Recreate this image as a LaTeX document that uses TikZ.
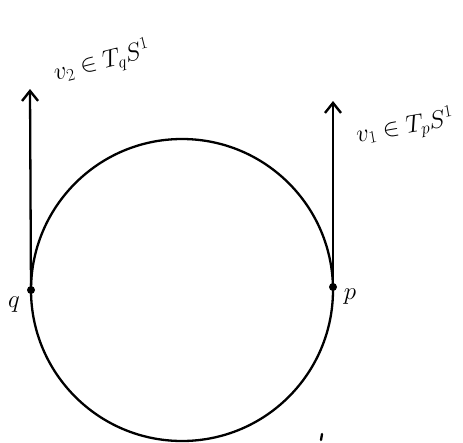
\documentclass[tikz,border=0pt]{standalone}
\usetikzlibrary{arrows.meta}
\begin{document}
\begin{tikzpicture}[x=1pt,y=-1pt,
  stroke/.style={line width=2.3pt,line cap=round},
  vec/.style={stroke,-{Straight Barb[length=10pt,width=16pt,line width=2.4pt]}},
  lab/.style={font=\fontsize{27}{30}\selectfont,inner sep=0pt},
  dotpt/.style={circle,fill=black,inner sep=0pt,minimum size=8pt}]
\useasboundingbox (0,0) rectangle (463,442);
\draw[stroke] (182,290) circle (151);
\node[dotpt] (q) at (31,290) {};
\node[dotpt] (p) at (333,287) {};
\coordinate (qt) at (30,89);
\coordinate (pt) at (333,101);
\draw[vec] (q) -- (qt);
\draw[vec] (p) -- (pt);
\node[lab,rotate=14] (lq) at (102,62) {$v_2\in T_qS^1$};
\node[lab,rotate=10] (lp) at (405,127) {$v_1\in T_pS^1$};
\node[lab] (nq) at (14,305) {$q$};
\node[lab] (np) at (350,297) {$p$};
\draw[stroke] (322,434) -- (321,440);
\end{tikzpicture}
\end{document}
